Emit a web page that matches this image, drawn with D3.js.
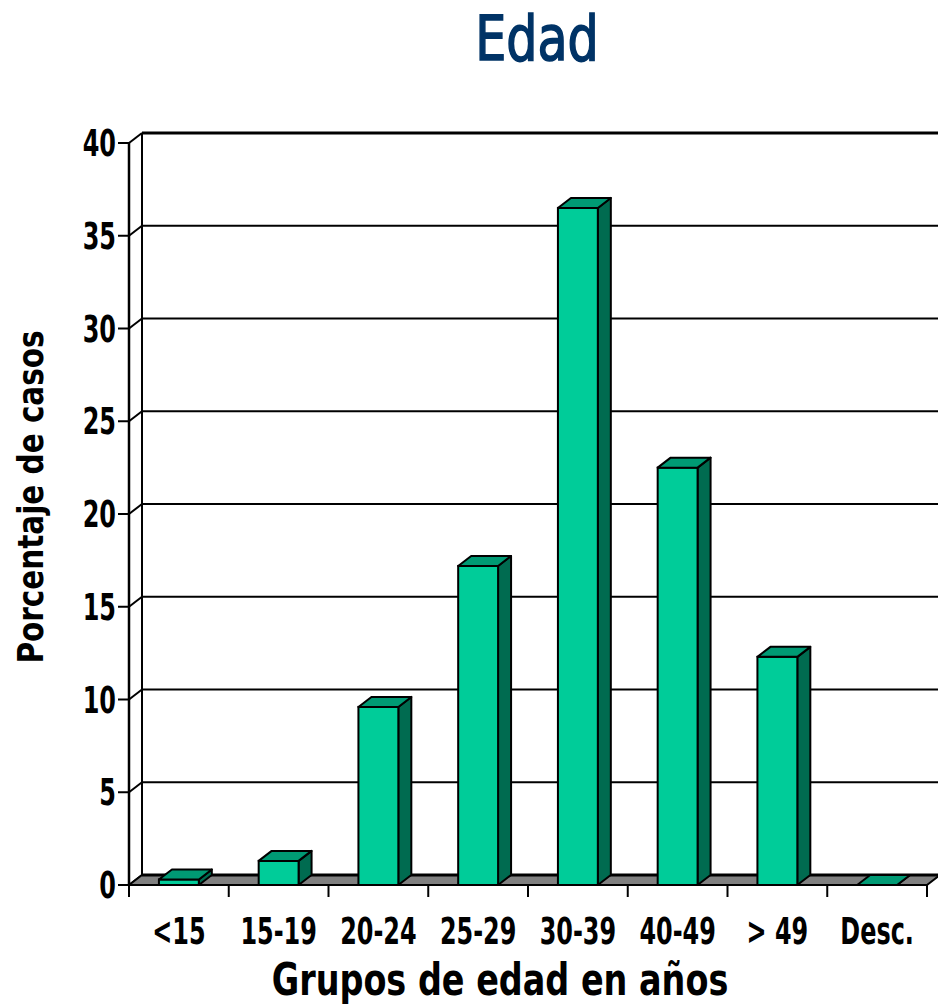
<!DOCTYPE html>
<html>
<head>
<meta charset="utf-8">
<script src="https://cdn.jsdelivr.net/npm/d3@7"></script>
<style>
  body { margin: 0; background: #fff; }
  svg text { font-family: "Liberation Sans Narrow", "DejaVu Sans Condensed", "Arial Narrow", sans-serif; }
</style>
</head>
<body>
<div id="chart"></div>
<script>
// data
var categories = ["<15", "15-19", "20-24", "25-29", "30-39", "40-49", "> 49", "Desc."];
var percentages = [0.3, 1.3, 9.6, 17.2, 36.5, 22.5, 12.3, 0];
var yTicks = [0, 5, 10, 15, 20, 25, 30, 35, 40];

var width = 938, height = 1005;

// plot area (front plane)
var plotLeft = 129, plotRight = 927, plotBottom = 885, plotTop = 143;
var depthX = 13, depthY = -10;

var svg = d3.select("#chart")
    .append("svg")
    .attr("width", width)
    .attr("height", height);

var xScale = d3.scaleBand().domain(categories).range([plotLeft, plotRight]).padding(0);
var yScale = d3.scaleLinear().domain([0, 40]).range([plotBottom, plotTop]);

var barWidth = xScale.bandwidth() * 0.4;

// text squeezed horizontally to look like a condensed face
function squeezedText(parent, x, y, txt, size, sx, anchor, weight, rotate) {
    return parent.append("text")
        .attr("transform", "translate(" + x + "," + y + ")" + (rotate ? " rotate(" + rotate + ")" : "") + " scale(" + sx + ",1)")
        .attr("text-anchor", anchor)
        .attr("font-size", size + "px")
        .attr("font-weight", weight)
        .text(txt);
}

// back wall gridlines
var grid = svg.append("g").attr("class", "grid");
grid.selectAll("line.h")
    .data(yTicks)
    .enter().append("line")
    .attr("x1", plotLeft + depthX)
    .attr("x2", plotRight + depthX)
    .attr("y1", function (d) { return yScale(d) + depthY; })
    .attr("y2", function (d) { return yScale(d) + depthY; })
    .attr("stroke", "#000")
    .attr("stroke-width", function (d) { return d === 40 ? 3 : 2; });

// diagonal connectors from front axis to back wall
grid.selectAll("line.d")
    .data(yTicks)
    .enter().append("line")
    .attr("x1", plotLeft)
    .attr("x2", plotLeft + depthX)
    .attr("y1", function (d) { return yScale(d); })
    .attr("y2", function (d) { return yScale(d) + depthY; })
    .attr("stroke", "#000")
    .attr("stroke-width", 2);

// back wall left edge
grid.append("line")
    .attr("x1", plotLeft + depthX).attr("x2", plotLeft + depthX)
    .attr("y1", yScale(40) + depthY).attr("y2", yScale(0) + depthY)
    .attr("stroke", "#000").attr("stroke-width", 2);

// floor
svg.append("path")
    .attr("d", "M" + plotLeft + "," + plotBottom +
        "L" + plotRight + "," + plotBottom +
        "L" + (plotRight + depthX) + "," + (plotBottom + depthY) +
        "L" + (plotLeft + depthX) + "," + (plotBottom + depthY) + "Z")
    .attr("fill", "#808080")
    .attr("stroke", "#000")
    .attr("stroke-width", 2)
    .attr("stroke-linejoin", "round");
svg.append("line")
    .attr("x1", plotLeft + depthX).attr("x2", plotRight + depthX)
    .attr("y1", plotBottom + depthY).attr("y2", plotBottom + depthY)
    .attr("stroke", "#000").attr("stroke-width", 3);

// front y axis line
svg.append("line")
    .attr("x1", plotLeft).attr("x2", plotLeft)
    .attr("y1", yScale(40)).attr("y2", yScale(0))
    .attr("stroke", "#000").attr("stroke-width", 2.5);

// y axis ticks & labels
var yAxis = svg.append("g").attr("class", "y-axis");
yAxis.selectAll("line")
    .data(yTicks)
    .enter().append("line")
    .attr("x1", plotLeft - 11).attr("x2", plotLeft)
    .attr("y1", function (d) { return yScale(d); })
    .attr("y2", function (d) { return yScale(d); })
    .attr("stroke", "#000").attr("stroke-width", 2);
yTicks.forEach(function (d) {
    squeezedText(yAxis, plotLeft - 13, yScale(d) + 13, d, 37, 0.72, "end", "bold");
});

// x axis ticks & labels
var xBounds = categories.map(function (c) { return xScale(c); }).concat([plotRight]);
var xAxis = svg.append("g").attr("class", "x-axis");
xAxis.selectAll("line")
    .data(xBounds)
    .enter().append("line")
    .attr("x1", function (d) { return d; })
    .attr("x2", function (d) { return d; })
    .attr("y1", plotBottom).attr("y2", plotBottom + 12)
    .attr("stroke", "#000").attr("stroke-width", 2);
categories.forEach(function (c) {
    squeezedText(xAxis, xScale(c) + xScale.bandwidth() / 2, 944, c, 38, 0.7, "middle", "bold");
});

// bars
var bars = svg.append("g").attr("class", "bars")
    .selectAll("g")
    .data(categories.map(function (c, i) { return {cat: c, value: percentages[i]}; }))
    .enter().append("g");

function bx(d) { return xScale(d.cat) + (xScale.bandwidth() - barWidth) / 2; }

// side face
bars.append("path")
    .attr("d", function (d) {
        var x = bx(d) + barWidth, yv = yScale(d.value);
        return "M" + x + "," + yv + "L" + (x + depthX) + "," + (yv + depthY) +
            "L" + (x + depthX) + "," + (plotBottom + depthY) + "L" + x + "," + plotBottom + "Z";
    })
    .attr("fill", "#006B50")
    .attr("stroke", "#000").attr("stroke-width", 2).attr("stroke-linejoin", "round");

// front face
bars.append("rect")
    .attr("x", bx)
    .attr("y", function (d) { return yScale(d.value); })
    .attr("width", barWidth)
    .attr("height", function (d) { return plotBottom - yScale(d.value); })
    .attr("fill", "#00CC99")
    .attr("stroke", "#000").attr("stroke-width", 2);

// top face
bars.append("path")
    .attr("d", function (d) {
        var x = bx(d), yv = yScale(d.value);
        return "M" + x + "," + yv + "L" + (x + depthX) + "," + (yv + depthY) +
            "L" + (x + barWidth + depthX) + "," + (yv + depthY) + "L" + (x + barWidth) + "," + yv + "Z";
    })
    .attr("fill", "#009A74")
    .attr("stroke", "#000").attr("stroke-width", 2).attr("stroke-linejoin", "round");

// titles
squeezedText(svg, 537, 60, "Edad", 62, 0.88, "middle", "normal")
    .attr("fill", "#003366")
    .attr("stroke", "#003366")
    .attr("stroke-width", 1.5);

squeezedText(svg, 43, 497, "Porcentaje de casos", 36, 0.91, "middle", "bold", -90);

squeezedText(svg, 500, 995, "Grupos de edad en años", 44, 0.845, "middle", "bold");
</script>
</body>
</html>
